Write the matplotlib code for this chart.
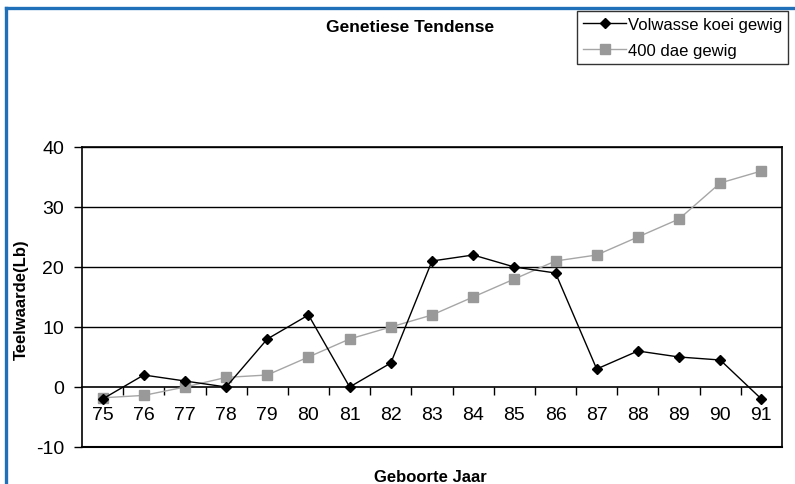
import matplotlib
matplotlib.use("Agg")
import matplotlib.pyplot as plt
from matplotlib.lines import Line2D

plt.rcParams['font.family'] = ['Liberation Sans', 'DejaVu Sans']

years = ["75", "76", "77", "78", "79", "80", "81", "82", "83", "84", "85", "86", "87", "88", "89", "90", "91"]
volwasse = [-2, 2, 1, 0, 8, 12, 0, 4, 21, 22, 20, 19, 3, 6, 5, 4.5, -2]
dae400 = [-1.8, -1.4, 0, 1.6, 2, 5, 8, 10, 12, 15, 18, 21, 22, 25, 28, 34, 36]
yticks = [-10, 0, 10, 20, 30, 40]

W, H = 795, 485
fig = plt.figure(figsize=(W / 100, H / 100), dpi=100)
fig.patch.set_facecolor('white')

left, right, top, bottom = 82, 782, 148, 448
ax = fig.add_axes([left / W, 1 - bottom / H, (right - left) / W, (bottom - top) / H])

x = list(range(len(years)))
ax.plot(x, dae400, color='#a6a6a6', lw=1.0, marker='s', markersize=6.5,
        markerfacecolor='#999999', markeredgecolor='#999999', label='400 dae gewig', zorder=3)
ax.plot(x, volwasse, color='black', lw=1.0, marker='D', markersize=5.5,
        markerfacecolor='black', markeredgecolor='black', label='Volwasse koei gewig', zorder=4)

ax.set_xlim(-0.5, len(years) - 0.5)
ax.set_ylim(-10, 40)
ax.set_yticks(yticks)
ax.set_yticklabels([str(v) for v in yticks], fontsize=14)
for v in yticks[2:]:
    ax.axhline(v, color='black', lw=1.0, zorder=1)

# category axis crossing at zero
ax.spines['bottom'].set_position(('data', 0))
ax.set_xticks([i + 0.5 for i in x[:-1]])
ax.set_xticklabels([])
ax.set_xticks(x, minor=True)
ax.set_xticklabels(years, minor=True, fontsize=14)
ax.tick_params(axis='x', which='major', direction='out', length=6, width=1, color='black')
ax.tick_params(axis='x', which='minor', length=0, pad=14)
ax.tick_params(axis='y', direction='out', length=6, width=1, pad=7)
for s in ax.spines.values():
    s.set_color('black')
    s.set_linewidth(1.2)
ax.axhline(-10, color='black', lw=1.5, clip_on=False, zorder=5)

fig.text(21 / W, 1 - 300 / H, 'Teelwaarde(Lb)', rotation=90, ha='center', va='center',
         fontsize=12, fontweight='bold')
fig.text(430 / W, 1 - 478 / H, 'Geboorte Jaar', ha='center', va='center',
         fontsize=12, fontweight='bold')
fig.text(410 / W, 1 - 28 / H, 'Genetiese Tendense', ha='center', va='center',
         fontsize=12.5, fontweight='bold')

handles, labels = ax.get_legend_handles_labels()
leg = fig.legend(handles[::-1], labels[::-1], loc='upper left',
                 bbox_to_anchor=(577 / W, 1 - 12 / H), borderaxespad=0,
                 fontsize=12, frameon=True, fancybox=False, handlelength=2.6,
                 handletextpad=0.1, labelspacing=0.65, borderpad=0.35)
leg.get_frame().set_edgecolor('black')
leg.get_frame().set_linewidth(1.0)

blue = '#1f6fb9'
fig.add_artist(Line2D([6 / W, 1], [1 - 9 / H, 1 - 9 / H], color=blue, lw=2.4,
                      transform=fig.transFigure))
fig.add_artist(Line2D([6 / W, 6 / W], [0, 1 - 9 / H], color=blue, lw=2.4,
                      transform=fig.transFigure))

fig.savefig('out.png', dpi=100, facecolor='white')
